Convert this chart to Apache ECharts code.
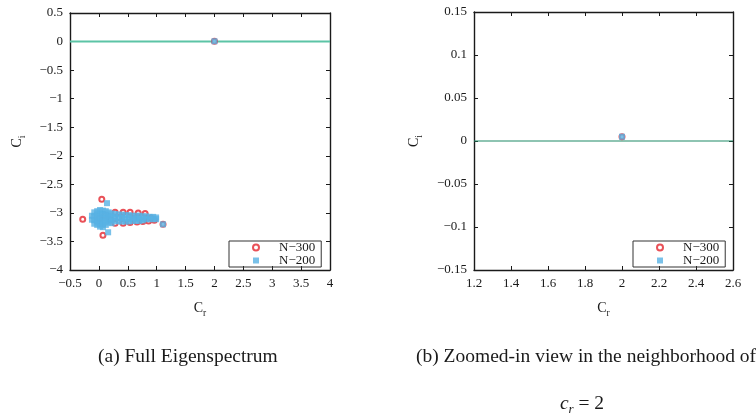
<!DOCTYPE html>
<html>
<head>
<meta charset="utf-8">
<script src="https://cdn.jsdelivr.net/npm/echarts@6/dist/echarts.min.js"></script>
<style>
  html, body { margin: 0; padding: 0; background: #fff; }
  #chart { width: 756px; height: 419px; }
</style>
</head>
<body>
<div id="chart"></div>
<script>
// Eigenvalues c = c_r + i c_i computed with N = 300 modes
const n300 = [
  [-0.28, -3.11], [0.05, -2.76], [0.07, -3.39], [1.11, -3.20], [2.0, 0.005],
  [0.28, -2.99], [0.42, -2.99], [0.54, -2.99],
  [0.68, -3.00], [0.80, -3.01], [0.28, -3.18], [0.42, -3.18], [0.54, -3.17],
  [0.66, -3.16], [0.76, -3.15], [0.86, -3.14], [0.96, -3.13],
  [0.00, -3.10], [0.10, -3.05], [0.20, -3.12], [0.35, -3.08], [0.60, -3.10], [0.90, -3.09]
];

// Eigenvalues computed with N = 200 modes
const n200 = [
  [-0.12, -3.05], [-0.12, -3.12],
  [-0.08, -2.99], [-0.08, -3.06], [-0.08, -3.13], [-0.08, -3.19],
  [-0.03, -2.97], [-0.03, -3.03], [-0.03, -3.09], [-0.03, -3.15], [-0.03, -3.21],
  [0.02, -2.95], [0.02, -3.01], [0.02, -3.07], [0.02, -3.13], [0.02, -3.19], [0.02, -3.24],
  [0.07, -2.96], [0.07, -3.02], [0.07, -3.08], [0.07, -3.14], [0.07, -3.20], [0.07, -3.25],
  [0.12, -2.97], [0.12, -3.03], [0.12, -3.09], [0.12, -3.15], [0.12, -3.21],
  [0.17, -2.99], [0.17, -3.05], [0.17, -3.11], [0.17, -3.17],
  [0.22, -3.01], [0.22, -3.07], [0.22, -3.13], [0.22, -3.18],
  [0.28, -3.02], [0.28, -3.08], [0.28, -3.14],
  [0.34, -3.03], [0.34, -3.09], [0.34, -3.15],
  [0.40, -3.03], [0.40, -3.09], [0.40, -3.15],
  [0.46, -3.04], [0.46, -3.10], [0.46, -3.15],
  [0.52, -3.04], [0.52, -3.10], [0.52, -3.15],
  [0.58, -3.05], [0.58, -3.10], [0.58, -3.14],
  [0.64, -3.05], [0.64, -3.10], [0.64, -3.14],
  [0.70, -3.05], [0.70, -3.10], [0.70, -3.14],
  [0.76, -3.06], [0.76, -3.11], [0.76, -3.13],
  [0.82, -3.06], [0.82, -3.11],
  [0.88, -3.07], [0.88, -3.11],
  [0.94, -3.07], [0.94, -3.11],
  [0.99, -3.08], [0.99, -3.11],
  [0.14, -2.83], [0.16, -3.34], [1.11, -3.20], [2.0, 0.005]
];

// Neutral line c_i = 0
const zeroLineCr = [-0.5, 4];
const zeroLineCi = [0, 0];

// Tick values of both panels
const fullCrTicks = [-0.5, 0, 0.5, 1, 1.5, 2, 2.5, 3, 3.5, 4];
const fullCiTicks = [-4, -3.5, -3, -2.5, -2, -1.5, -1, -0.5, 0, 0.5];
const zoomCrTicks = [1.2, 1.4, 1.6, 1.8, 2, 2.2, 2.4, 2.6];
const zoomCiTicks = [-0.15, -0.1, -0.05, 0, 0.05, 0.1, 0.15];

const seriesNames = ['N\u2212300', 'N\u2212200'];
const captionA = '(a) Full Eigenspectrum';
const captionB = '(b) Zoomed-in view in the neighborhood of';

const SERIF = '"Liberation Serif", "DejaVu Serif", serif';
const INK = '#1a1a1a';

const fmt = v => String(parseFloat(v.toFixed(3))).replace('-', '\u2212');
const step = t => Math.round((t[1] - t[0]) * 1000) / 1000;

function axis(ticks, gridIndex, position, showLabels, extra) {
  return Object.assign({
    type: 'value',
    gridIndex: gridIndex,
    position: position,
    min: ticks[0],
    max: ticks[ticks.length - 1],
    interval: step(ticks),
    splitLine: { show: false },
    axisLine: { show: true, onZero: false, lineStyle: { color: INK, width: 1.4 } },
    axisTick: { show: true, inside: true, length: 4, lineStyle: { color: INK, width: 1 } },
    axisLabel: {
      show: showLabels,
      formatter: fmt,
      fontFamily: SERIF,
      fontSize: 13,
      color: INK,
      margin: 7,
      showMinLabel: true,
      showMaxLabel: true
    }
  }, extra || {});
}

const nameRich = {
  c: { fontFamily: SERIF, fontSize: 14, color: INK, lineHeight: 19 },
  s: { fontFamily: SERIF, fontSize: 9.5, color: INK, lineHeight: 9.5, verticalAlign: 'bottom' }
};

function xName(gap) {
  return {
    name: '{c|C}{s|r}', nameLocation: 'middle', nameGap: gap,
    nameTextStyle: { rich: nameRich }
  };
}
function yName(gap) {
  return {
    name: '{c|C}{s|i}', nameLocation: 'middle', nameGap: gap, nameRotate: 90,
    nameTextStyle: { rich: nameRich }
  };
}

const lineData = zeroLineCr.map((x, i) => [x, zeroLineCi[i]]);
const zoomLineData = [[zoomCrTicks[0], 0], [zoomCrTicks[zoomCrTicks.length - 1], 0]];

function panelSeries(idx, lineColor, lineWidth, lData) {
  return [
    {
      type: 'line', xAxisIndex: idx * 2, yAxisIndex: idx * 2,
      data: lData, symbol: 'none', silent: true, z: 1,
      lineStyle: { color: lineColor, width: lineWidth }
    },
    {
      name: seriesNames[0], type: 'scatter', xAxisIndex: idx * 2, yAxisIndex: idx * 2,
      data: n300, symbol: 'emptyCircle', symbolSize: 5, z: 2,
      itemStyle: { color: '#e3262e', borderWidth: 1.1 }
    },
    {
      name: seriesNames[1], type: 'scatter', xAxisIndex: idx * 2, yAxisIndex: idx * 2,
      data: n200, symbol: 'rect', symbolSize: 6, z: 3,
      itemStyle: { color: '#58b2e4' }
    }
  ];
}

function legendAt(left, top) {
  return {
    data: seriesNames,
    orient: 'vertical',
    left: left, top: top,
    itemWidth: 6, itemHeight: 6, itemGap: 0,
    padding: [0, 6, 0, 23],
    borderColor: '#333', borderWidth: 1,
    selectedMode: false,
    textStyle: { fontFamily: SERIF, fontSize: 13, color: INK, lineHeight: 11.5, padding: [0, 0, 0, 15] }
  };
}

const chart = echarts.init(document.getElementById('chart'), null, { renderer: 'canvas' });
chart.setOption({
  backgroundColor: '#fff',
  animation: false,
  grid: [
    { left: 70, top: 13, width: 260, height: 257 },
    { left: 474, top: 12, width: 259, height: 258 }
  ],
  xAxis: [
    axis(fullCrTicks, 0, 'bottom', true, xName(29)),
    axis(fullCrTicks, 0, 'top', false),
    axis(zoomCrTicks, 1, 'bottom', true, xName(29)),
    axis(zoomCrTicks, 1, 'top', false)
  ],
  yAxis: [
    axis(fullCiTicks, 0, 'left', true, yName(43)),
    axis(fullCiTicks, 0, 'right', false),
    axis(zoomCiTicks, 1, 'left', true, yName(50)),
    axis(zoomCiTicks, 1, 'right', false)
  ],
  legend: [legendAt(229, 241), legendAt(633, 241)],
  series: panelSeries(0, '#5cc4a6', 2, lineData).concat(panelSeries(1, '#1f8a66', 1.2, zoomLineData)),
  graphic: [
    {
      type: 'text', x: 98, y: 357,
      style: { text: captionA, font: '19.5px ' + SERIF, fill: INK, textAlign: 'left', textVerticalAlign: 'middle' }
    },
    {
      type: 'text', x: 416, y: 357,
      style: { text: captionB, font: '19.5px ' + SERIF, fill: INK, textAlign: 'left', textVerticalAlign: 'middle' }
    },
    {
      type: 'text', x: 582, y: 404,
      style: {
        text: '{v|c}{s|r}{e|\u2005=\u20052}',
        fill: INK, textAlign: 'center', textVerticalAlign: 'middle',
        rich: {
          v: { fontFamily: SERIF, fontStyle: 'italic', fontSize: 19.5, lineHeight: 24, fill: INK },
          s: { fontFamily: SERIF, fontStyle: 'italic', fontSize: 13, lineHeight: 13, verticalAlign: 'bottom', fill: INK },
          e: { fontFamily: SERIF, fontSize: 19.5, lineHeight: 24, fill: INK }
        }
      }
    }
  ]
});
</script>
</body>
</html>
